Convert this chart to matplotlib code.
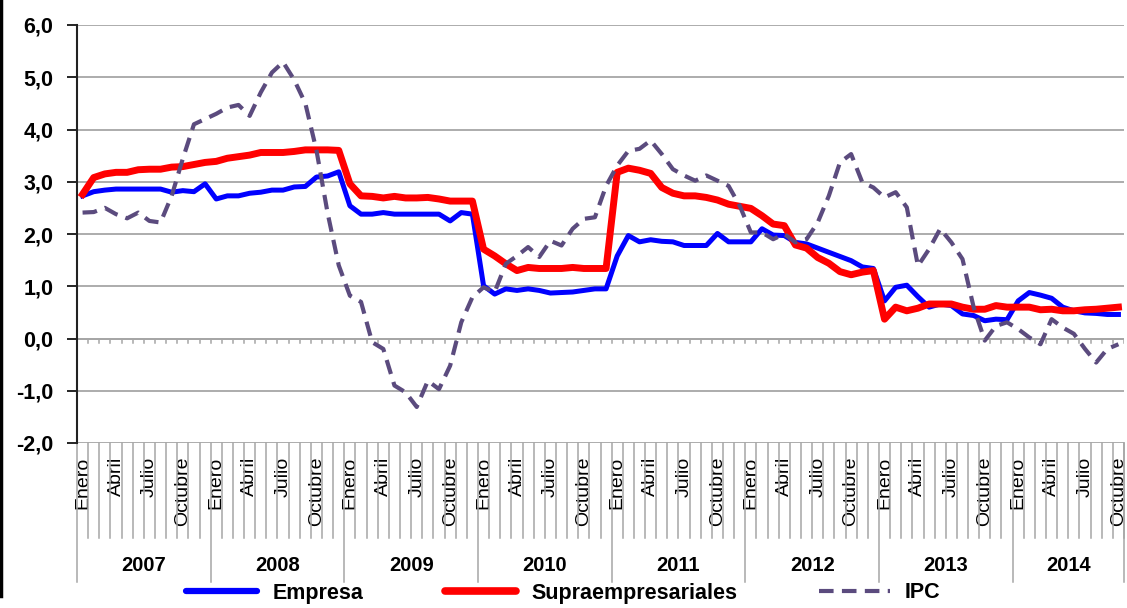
import matplotlib
matplotlib.use('Agg')
import matplotlib.pyplot as plt
from matplotlib.lines import Line2D

plt.rcParams['font.family'] = ['Liberation Sans', 'DejaVu Sans']

years = ['2007', '2008', '2009', '2010', '2011', '2012', '2013', '2014']
quarter_labels = ['Enero', 'Abril', 'Julio', 'Octubre']

# enero 2007 - octubre 2014 (94 meses)
empresa = [
    2.73, 2.81, 2.84, 2.86, 2.86, 2.86, 2.86, 2.86, 2.80, 2.83, 2.81, 2.96,
    2.67, 2.73, 2.73, 2.78, 2.80, 2.84, 2.84, 2.90, 2.91, 3.09, 3.11, 3.19,
    2.54, 2.38, 2.38, 2.41, 2.38, 2.38, 2.38, 2.38, 2.38, 2.25, 2.41, 2.38,
    1.01, 0.85, 0.95, 0.92, 0.95, 0.92, 0.87, 0.88, 0.89, 0.92, 0.95, 0.95,
    1.58, 1.97, 1.85, 1.89, 1.86, 1.85, 1.78, 1.78, 1.78, 2.01, 1.85, 1.85,
    1.85, 2.10, 1.98, 1.97, 1.84, 1.81, 1.73, 1.65, 1.57, 1.49, 1.37, 1.34,
    0.72, 0.98, 1.02, 0.80, 0.60, 0.66, 0.63, 0.47, 0.44, 0.34, 0.37, 0.36,
    0.72, 0.88, 0.83, 0.77, 0.60, 0.53, 0.49, 0.48, 0.46, 0.46,
]

supra = [
    2.76, 3.08, 3.15, 3.18, 3.18, 3.23, 3.24, 3.24, 3.28, 3.29, 3.33, 3.37,
    3.39, 3.45, 3.48, 3.51, 3.56, 3.56, 3.56, 3.58, 3.61, 3.61, 3.61, 3.60,
    2.96, 2.73, 2.72, 2.69, 2.72, 2.69, 2.69, 2.70, 2.67, 2.63, 2.63, 2.63,
    1.71, 1.58, 1.43, 1.30, 1.36, 1.34, 1.34, 1.34, 1.36, 1.34, 1.34, 1.34,
    3.18, 3.26, 3.22, 3.16, 2.89, 2.78, 2.73, 2.73, 2.70, 2.65, 2.57, 2.53,
    2.49, 2.35, 2.19, 2.16, 1.79, 1.73, 1.55, 1.44, 1.28, 1.22, 1.27, 1.30,
    0.37, 0.60, 0.53, 0.58, 0.66, 0.66, 0.66, 0.60, 0.56, 0.56, 0.63, 0.60,
    0.60, 0.60, 0.55, 0.56, 0.53, 0.53, 0.55, 0.56, 0.58, 0.60,
]

ipc = [
    2.41, 2.42, 2.50, 2.38, 2.30, 2.41, 2.25, 2.22, 2.73, 3.44, 4.10, 4.20,
    4.30, 4.42, 4.47, 4.26, 4.71, 5.09, 5.29, 4.95, 4.50, 3.60, 2.40, 1.40,
    0.82, 0.70, -0.07, -0.20, -0.90, -1.03, -1.31, -0.81, -0.97, -0.52, 0.31, 0.79,
    0.98, 0.89, 1.43, 1.58, 1.75, 1.56, 1.87, 1.78, 2.10, 2.29, 2.32, 2.92,
    3.31, 3.59, 3.63, 3.79, 3.53, 3.24, 3.12, 3.02, 3.12, 3.02, 2.92, 2.54,
    2.03, 2.03, 1.90, 2.00, 1.84, 1.90, 2.22, 2.73, 3.37, 3.53, 2.99, 2.89,
    2.70, 2.80, 2.51, 1.39, 1.71, 2.10, 1.84, 1.52, 0.60, -0.04, 0.24, 0.31,
    0.18, 0.02, -0.11, 0.37, 0.21, 0.09, -0.20, -0.46, -0.20, -0.11,
]

n = len(empresa)
x = [i + 0.5 for i in range(n)]

fig = plt.figure(figsize=(11.27, 6.08), dpi=100)
ax = fig.add_axes([77 / 1127, 1 - 443 / 608, (1124 - 77) / 1127, 418 / 608])

ax.plot(x, empresa, color='#0000FF', lw=3.6, solid_joinstyle='round', zorder=3, label='Empresa')
ax.plot(x, supra, color='#FF0000', lw=5.0, solid_joinstyle='round', zorder=4, label='Supraempresariales')
ax.plot(x, ipc, color='#5B4B7E', lw=3.0, dashes=(3.5, 2.0), zorder=5, label='IPC')

ax.set_xlim(0, n)
ax.set_ylim(-2, 6)

# y axis
ax.set_yticks(range(-2, 7))
ax.set_yticklabels([f'{v},0' for v in range(-2, 7)], fontsize=15.5, fontweight='bold')
ax.tick_params(axis='y', length=7, width=1.2, color='black', pad=10)
ax.grid(axis='y', color='#A6A6A6', lw=1.3)
ax.set_axisbelow(True)
for s in ['top', 'right', 'bottom']:
    ax.spines[s].set_visible(False)
ax.spines['left'].set_color('#222222')
ax.spines['left'].set_linewidth(1.5)

# zero line with small ticks
ax.axhline(0, color='#A6A6A6', lw=1.3, zorder=1)
for k in range(1, n + 1):
    ax.plot([k, k], [0, -0.08], color='#A6A6A6', lw=1.1, zorder=1)

# month labels
pos, labs = [], []
for i in range(n):
    if i % 3 == 0:
        pos.append(i + 0.5)
        labs.append(quarter_labels[(i % 12) // 3])
ax.set_xticks(pos)
ax.set_xticklabels(labs, rotation=90, fontsize=14, va='top')
ax.tick_params(axis='x', length=0, pad=10)

# category separators below the axis
tr = ax.get_xaxis_transform()
for k in range(0, n + 1):
    bottom = -0.333 if k % 12 == 0 else -0.228
    ax.plot([k, k], [0, bottom], color='#A6A6A6', lw=1.1, transform=tr, clip_on=False)
ax.plot([n, n], [0, -0.333], color='#A6A6A6', lw=1.1, transform=tr, clip_on=False)

for j, yr in enumerate(years):
    start = j * 12
    end = min(start + 12, n)
    ax.text((start + end) / 2, -0.294, yr, transform=tr, ha='center', va='center',
            fontsize=14.5, fontweight='bold')

handles = [
    Line2D([], [], color='#0000FF', lw=4.5, solid_capstyle='round'),
    Line2D([], [], color='#FF0000', lw=5.5, solid_capstyle='round'),
    Line2D([], [], color='#5B4B7E', lw=3.0, dashes=(3.5, 2.0)),
]
fig.legend(handles, ['Empresa', 'Supraempresariales', 'IPC'], loc='center',
           bbox_to_anchor=(0.5, 1 - 593 / 608), ncol=3, frameon=False,
           prop={'size': 15.5, 'weight': 'bold'}, handlelength=3.3,
           handletextpad=0.7, columnspacing=3.8)

# left border
fig.add_artist(Line2D([0.001, 0.001], [0.02, 1], color='black', lw=2.5, transform=fig.transFigure))

plt.savefig('out.png', dpi=100)
